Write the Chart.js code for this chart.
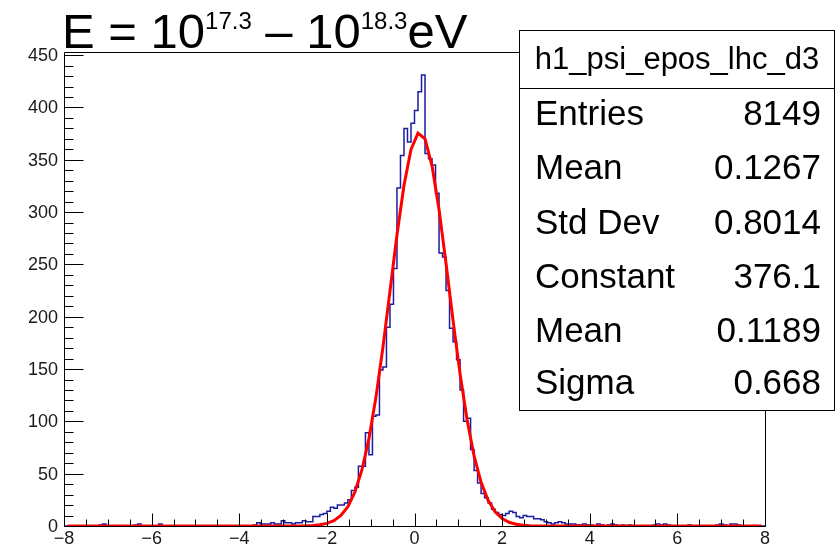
<!DOCTYPE html>
<html><head><meta charset="utf-8">
<script src="https://cdn.jsdelivr.net/npm/chart.js@4.4.1/dist/chart.umd.min.js"></script>
<style>html,body{margin:0;padding:0;background:#fff;}#wrap{width:836px;height:545px;position:relative;}</style>
</head><body><div id="wrap"><canvas id="c" width="836" height="545"></canvas></div>
<script>
// ---- data ----
const histName = 'h1_psi_epos_lhc_d3';
const xMin = -8, xMax = 8, binWidth = 0.08;   // 200 bins
const counts = [
  0,0,0,0,0,0,0,0,0,0,
  1,2,0,0,0,0,0,0,0,0,
  1,2,0,0,0,0,0,2,0,0,
  0,0,0,0,0,0,0,0,0,0,
  0,0,0,0,0,0,0,0,0,0,
  0,0,0,0,1,3,2,2,2,3,
  2,2,5,3,3,2,3,3,5,4,
  4,9,9,11,12,14,18,17,20,20,
  22,25,34,37,57,57,89,68,105,106,
  149,152,190,212,246,323,354,380,367,385,
  397,415,431,356,351,345,318,261,257,225,
  189,176,159,130,100,103,73,53,41,31,
  27,22,16,13,11,10,12,14,13,9,
  8,10,9,9,7,7,6,4,3,2,
  3,4,3,2,2,2,1,1,2,1,
  1,0,2,1,0,1,2,1,0,1,
  0,1,0,0,0,0,0,0,1,2,
  1,2,1,0,0,0,0,0,1,0,
  0,0,0,0,0,0,1,2,1,0,
  2,2,1,0,0,0,0,0,0,0
];
const fitX = [-7.92,-2.96,-2.80,-2.64,-2.48,-2.32,-2.16,-2.00,-1.84,-1.68,-1.52,-1.36,-1.20,-1.04,-0.88,-0.72,-0.56,-0.40,-0.24,-0.08,
  0.08,0.24,0.40,0.56,0.72,0.88,1.04,1.20,1.36,1.52,1.68,1.84,2.00,2.16,2.32,2.48,2.64,2.80,2.96,7.92];
const fitY = [0,0.009,0.027,0.074,0.19,0.48,1.12,2.46,5.11,10.01,18.55,32.44,53.56,83.51,122.95,170.95,224.40,278.15,325.56,359.79,
  375.46,369.97,344.23,302.43,250.88,196.52,145.35,101.51,66.95,41.69,24.51,13.61,7.13,3.53,1.65,0.73,0.30,0.12,0.044,0];
const xTickLabels = [-8,-6,-4,-2,0,2,4,6,8];
const yTickLabels = [0,50,100,150,200,250,300,350,400,450];
const yMax = 453;
const statLabels = ['Entries','Mean','Std Dev','Constant','Mean','Sigma'];
const statValues = ['8149','0.1267','0.8014','376.1','0.1189','0.668'];
const titleParts = [['E = 10',false],['17.3',true],[' \u2013 10',false],['18.3',true],['eV',false]];

// ---- build datasets ----
const histPts = counts.map((c,i)=>({x: xMin + i*binWidth, y: c}));
histPts.push({x: xMax, y: counts[counts.length-1]});
const fitPts = fitX.map((v,i)=>({x: v, y: fitY[i]}));

const FONT = '"Liberation Sans", Arial, sans-serif';
const fmt = v => v < 0 ? '\u2212' + Math.abs(v) : String(v);

const rootDecor = {
  id: 'rootDecor',
  afterDatasetsDraw(chart) {
    const {ctx, chartArea: a, scales: {x, y}} = chart;
    ctx.save();
    ctx.strokeStyle = '#000'; ctx.lineWidth = 1;
    ctx.beginPath();
    const L = Math.round(a.left)+0.5, R = Math.round(a.right)+0.5, T = Math.round(a.top)+0.5, B = Math.round(a.bottom)+0.5;
    ctx.moveTo(L,T); ctx.lineTo(R,T); ctx.lineTo(R,B); ctx.lineTo(L,B); ctx.closePath();
    for (let i = 0; i <= 32; i++) {
      const v = xMin + i*0.5;
      const px = Math.round(x.getPixelForValue(v)) + 0.5;
      const len = (i % 4 === 0) ? 13 : 7;
      ctx.moveTo(px, B); ctx.lineTo(px, B - len);
    }
    for (let i = 0; i <= 45; i++) {
      const v = i*10;
      const py = Math.round(y.getPixelForValue(v)) + 0.5;
      const len = (i % 5 === 0) ? 19 : 9;
      ctx.moveTo(L, py); ctx.lineTo(L + len, py);
    }
    ctx.stroke();
    ctx.fillStyle = '#1a1a1a';
    ctx.font = '18px ' + FONT;
    ctx.textAlign = 'right'; ctx.textBaseline = 'middle';
    yTickLabels.forEach(v => ctx.fillText(String(v), 58, y.getPixelForValue(v) + 1));
    ctx.textAlign = 'center'; ctx.textBaseline = 'alphabetic';
    xTickLabels.forEach(v => ctx.fillText(fmt(v), x.getPixelForValue(v), 544));
    ctx.restore();
  },
  afterDraw(chart) {
    const ctx = chart.ctx;
    ctx.save();
    ctx.fillStyle = '#000';
    ctx.textBaseline = 'alphabetic';
    ctx.textAlign = 'left';
    let xp = 62;
    for (const [t, sup] of titleParts) {
      ctx.font = (sup ? '24px ' : '49px ') + FONT;
      ctx.fillText(t, xp, sup ? 29 : 48);
      xp += ctx.measureText(t).width;
    }
    ctx.fillStyle = '#fff';
    ctx.fillRect(519, 30, 315, 380);
    ctx.strokeStyle = '#000'; ctx.lineWidth = 1;
    ctx.strokeRect(519.5, 30.5, 315, 380);
    ctx.beginPath(); ctx.moveTo(519.5, 88.5); ctx.lineTo(834.5, 88.5); ctx.stroke();
    ctx.fillStyle = '#000';
    ctx.font = '31px ' + FONT;
    ctx.textAlign = 'center';
    ctx.fillText(histName, 677, 69);
    ctx.font = '35px ' + FONT;
    const base = [125, 179, 234, 288, 342, 394];
    statLabels.forEach((lab, i) => {
      ctx.textAlign = 'left';  ctx.fillText(lab, 535, base[i]);
      ctx.textAlign = 'right'; ctx.fillText(statValues[i], 821, base[i]);
    });
    ctx.restore();
  }
};

new Chart(document.getElementById('c'), {
  type: 'scatter',
  data: {
    datasets: [
      { label: 'fit', data: fitPts, showLine: true, borderColor: '#ff0000', borderWidth: 3,
        pointRadius: 0, tension: 0, order: 0 },
      { label: histName, data: histPts, showLine: true, stepped: 'before', borderColor: '#1c1ca0',
        borderWidth: 1.5, pointRadius: 0, order: 1 }
    ]
  },
  options: {
    responsive: false, animation: false, devicePixelRatio: 1,
    layout: { padding: { left: 0, top: 52, right: 71, bottom: 0 } },
    plugins: { legend: { display: false }, tooltip: { enabled: false }, title: { display: false } },
    scales: {
      x: {
        type: 'linear', min: xMin, max: xMax,
        grid: { display: false }, border: { display: false },
        afterFit(s) { s.height = 19; },
        afterBuildTicks(s) { s.ticks = xTickLabels.map(v => ({value: v})); },
        ticks: { display: false }
      },
      y: {
        type: 'linear', min: 0, max: yMax,
        grid: { display: false }, border: { display: false },
        afterFit(s) { s.width = 64; },
        afterBuildTicks(s) { s.ticks = yTickLabels.map(v => ({value: v})); },
        ticks: { display: false }
      }
    }
  },
  plugins: [rootDecor]
});
</script>
</body></html>
